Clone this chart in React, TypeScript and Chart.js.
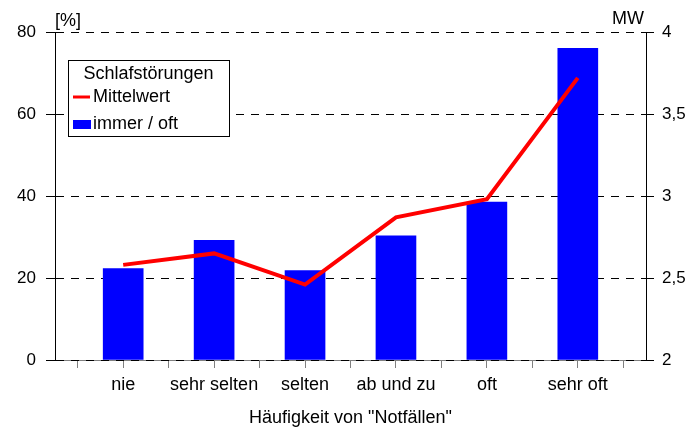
import React, { useEffect, useRef } from "react";
import { Chart, registerables } from "chart.js";

Chart.register(...registerables);

const categories = ["nie", "sehr selten", "selten", "ab und zu", "oft", "sehr oft"];
const immerOft = [22.3, 29.2, 21.8, 30.3, 38.5, 76.0];
const mittelwert = [2.58, 2.65, 2.46, 2.87, 2.98, 3.72];
const leftTitle = "[%]";
const rightTitle = "MW";
const xTitle = 'Häufigkeit von "Notfällen"';
const legendTitle = "Schlafstörungen";
const seriesLabels = ["Mittelwert", "immer / oft"];

const FONT = "'Liberation Sans', Arial, sans-serif";

const overlayPlugin = {
  id: "overlay",
  afterDraw(chart: any) {
    const { ctx, chartArea } = chart;
    const ca = chartArea;
    ctx.save();
    ctx.fillStyle = "#000";
    ctx.font = `18px ${FONT}`;
    ctx.textBaseline = "alphabetic";
    ctx.textAlign = "left";
    ctx.fillText(leftTitle, ca.left, ca.top - 6);
    ctx.textAlign = "right";
    ctx.fillText(rightTitle, ca.right - 2, ca.top - 8);

    // legend
    const lx = ca.left + 13;
    const ly = ca.top + 28;
    const w = 161;
    const h = 76;
    ctx.fillStyle = "#fff";
    ctx.fillRect(lx, ly, w, h);
    ctx.strokeStyle = "#000";
    ctx.lineWidth = 1;
    ctx.strokeRect(lx + 0.5, ly + 0.5, w, h);
    ctx.fillStyle = "#000";
    ctx.textAlign = "center";
    ctx.fillText(legendTitle, lx + w / 2, ly + 19);

    const lineDs = chart.data.datasets[0];
    const barDs = chart.data.datasets[1];
    ctx.strokeStyle = lineDs.borderColor;
    ctx.lineWidth = 3;
    ctx.beginPath();
    ctx.moveTo(lx + 5, ly + 37);
    ctx.lineTo(lx + 22, ly + 37);
    ctx.stroke();
    ctx.fillStyle = "#000";
    ctx.textAlign = "left";
    ctx.fillText(lineDs.label, lx + 25, ly + 42);

    ctx.fillStyle = barDs.backgroundColor;
    ctx.fillRect(lx + 5, ly + 60, 18, 9);
    ctx.fillStyle = "#000";
    ctx.fillText(barDs.label, lx + 25, ly + 69);
    ctx.restore();
  },
};

export default function App() {
  const ref = useRef<HTMLCanvasElement>(null);
  useEffect(() => {
    document.body.style.margin = "0";
    Chart.defaults.font.family = FONT;
    Chart.defaults.font.size = 17;
    Chart.defaults.color = "#000";
    const chart = new Chart(ref.current as HTMLCanvasElement, {
      type: "bar",
      data: {
        datasets: [
          {
            type: "line",
            label: seriesLabels[0],
            data: mittelwert.map((v, i) => ({ x: i, y: v })),
            borderColor: "#FF0000",
            backgroundColor: "#FF0000",
            borderWidth: 4,
            pointRadius: 0,
            yAxisID: "y2",
            xAxisID: "x",
            order: 0,
          } as any,
          {
            type: "bar",
            label: seriesLabels[1],
            data: immerOft.map((v, i) => ({ x: i, y: v })),
            backgroundColor: "#0000FF",
            borderWidth: 0,
            barThickness: 40,
            yAxisID: "y",
            xAxisID: "x",
            order: 1,
          } as any,
        ],
      },
      options: {
        responsive: false,
        animation: false,
        layout: { padding: { top: 32, left: 0, right: 0, bottom: 0 } },
        plugins: { legend: { display: false }, tooltip: { enabled: false } },
        scales: {
          x: {
            type: "linear",
            position: "bottom",
            min: -0.75,
            max: 5.75,
            offset: false,
            afterBuildTicks: (scale: any) => {
              const t = [];
              for (let v = -0.5; v <= 5.5; v += 0.5) t.push({ value: v });
              scale.ticks = t;
            },
            afterFit: (scale: any) => {
              scale.height = 70;
            },
            grid: {
              offset: false,
              drawOnChartArea: false,
              drawTicks: true,
              tickLength: 8,
              tickColor: "#808080",
              z: -3,
            },
            border: { display: true, color: "#808080", z: -2 },
            ticks: {
              autoSkip: false,
              maxRotation: 0,
              padding: 6,
              font: { size: 18 },
              callback: (v: any) =>
                Number.isInteger(v) && categories[v] !== undefined ? categories[v] : "",
            },
            title: {
              display: true,
              text: xTitle,
              font: { size: 18 },
              padding: { top: 0, bottom: 1 },
            },
          } as any,
          y: {
            type: "linear",
            position: "left",
            min: 0,
            max: 80,
            afterFit: (scale: any) => {
              scale.width = 55;
            },
            ticks: { stepSize: 20, padding: 10 },
            grid: {
              color: "#000",
              tickColor: "#000",
              tickLength: 9,
              tickBorderDash: [],
            },
            border: { display: true, color: "#000", dash: [8, 7] },
          } as any,
          y2: {
            type: "linear",
            position: "right",
            min: 2,
            max: 4,
            afterFit: (scale: any) => {
              scale.width = 47;
            },
            ticks: {
              stepSize: 0.5,
              padding: 8,
              callback: (v: any) => String(v).replace(".", ","),
            },
            grid: {
              drawOnChartArea: false,
              tickColor: "#000",
              tickLength: 8,
            },
            border: { display: true, color: "#000" },
          } as any,
        },
      },
      plugins: [overlayPlugin],
    });
    return () => chart.destroy();
  }, []);
  return (
    <div style={{ position: "absolute", left: 0, top: 0, width: 693, height: 430 }}>
      <canvas ref={ref} width={693} height={430} />
    </div>
  );
}
